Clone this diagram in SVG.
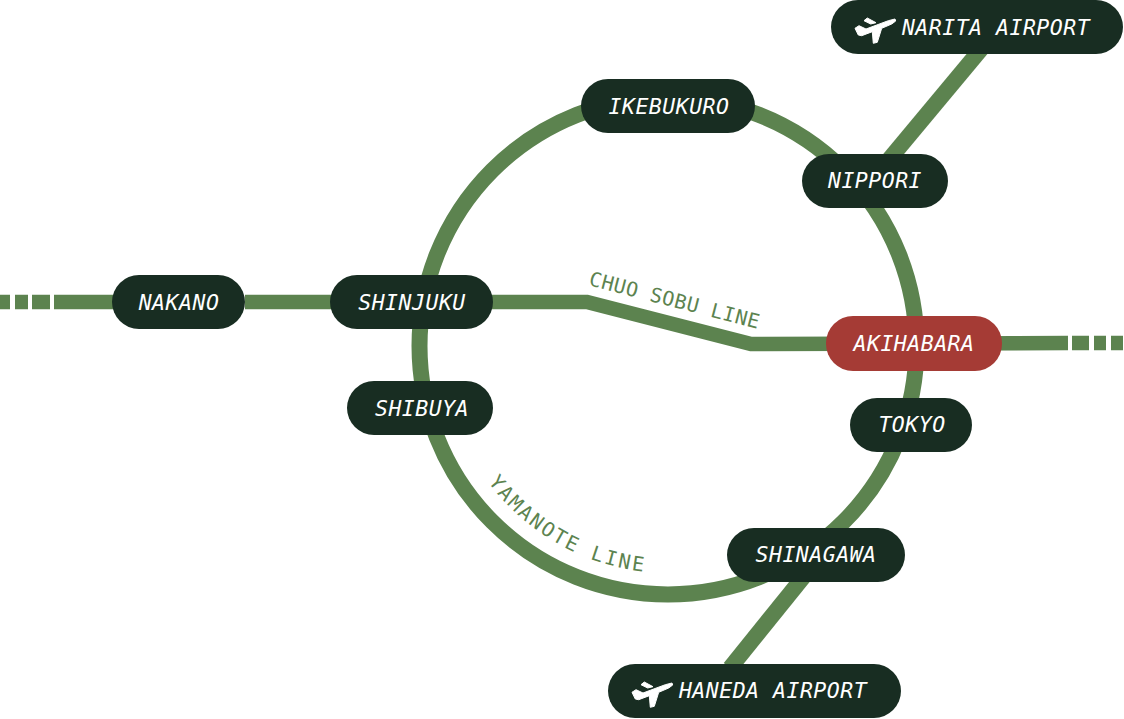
<svg xmlns="http://www.w3.org/2000/svg" xmlns:xlink="http://www.w3.org/1999/xlink" width="1124" height="719" viewBox="0 0 1124 719">
<style>
.line{fill:none;stroke:#5c834f;stroke-width:14.5}
.ring{stroke-width:16}
.air{stroke-width:16}
.pill{fill:#182d22}
.hot{fill:#a53b35}
.lbl{font-family:"DejaVu Sans Mono","Liberation Mono",monospace;font-style:italic;font-size:21.5px;letter-spacing:.5px;fill:#fff;text-anchor:middle}
.line-lbl{font-family:"DejaVu Sans Mono","Liberation Mono",monospace;font-size:20px;fill:#5c834f}
.plane{fill:#fff;stroke:#fff;stroke-width:1;stroke-linejoin:round}
</style>
<defs>
<path id="plane" d="M-19 -1.7L-15 -4.3L-8 -1L14.3 -9.3L21 -11L21.7 -9L17.7 -6L7.7 -1.7L3.3 12.3L-.7 13.3L-1.7 1.7L-12.3 5.7L-15.7 5ZM-10 -9.3L-6.7 -12L2 -7.3L-3.3 -6Z"/>
<path id="yama" d="M 488 482 A 226 226 0 0 0 668 573"/>
</defs>
<g id="connectors">
<circle class="line ring" cx="668" cy="346" r="248.5"/>
<path class="line" d="M54 302H180M245 302H587L751 344L1068 343"/>
<path class="line" d="M0 302H10M15 302H28M32 302H50M1072 343H1089M1094 343H1106M1111 343H1123"/>
<path class="line air" d="M885 164.4L985 44.4"/>
<path class="line air" d="M805 575L730 668"/>
</g>
<text class="line-lbl" transform="translate(588 285) rotate(14.5)" letter-spacing=".5">CHUO SOBU LINE</text>
<text class="line-lbl" letter-spacing="2.3"><textPath href="#yama" xlink:href="#yama">YAMANOTE LINE</textPath></text>
<g id="narita"><rect class="pill" x="831" y="0" width="292" height="54" rx="27"/><use class="plane" href="#plane" xlink:href="#plane" x="874" y="30"/><text class="lbl" x="996" y="35">NARITA AIRPORT</text></g>
<g id="ikebukuro"><rect class="pill" x="581" y="79" width="174" height="54" rx="27"/><text class="lbl" x="669" y="114">IKEBUKURO</text></g>
<g id="nippori"><rect class="pill" x="802" y="154" width="146" height="54" rx="27"/><text class="lbl" x="875" y="188">NIPPORI</text></g>
<g id="nakano"><rect class="pill" x="112" y="275" width="133" height="54" rx="27"/><text class="lbl" x="179" y="310">NAKANO</text></g>
<g id="shinjuku"><rect class="pill" x="330" y="275" width="163" height="54" rx="27"/><text class="lbl" x="412" y="310">SHINJUKU</text></g>
<g id="akihabara"><rect class="hot" x="826" y="316" width="176" height="55" rx="27"/><text class="lbl" x="914" y="351">AKIHABARA</text></g>
<g id="shibuya"><rect class="pill" x="347" y="381" width="146" height="54" rx="27"/><text class="lbl" x="422" y="416">SHIBUYA</text></g>
<g id="tokyo"><rect class="pill" x="850" y="398" width="122" height="54" rx="27"/><text class="lbl" x="912" y="432">TOKYO</text></g>
<g id="shinagawa"><rect class="pill" x="727" y="528" width="178" height="54" rx="27"/><text class="lbl" x="816" y="562">SHINAGAWA</text></g>
<g id="haneda"><rect class="pill" x="608" y="664" width="293" height="54" rx="27"/><use class="plane" href="#plane" xlink:href="#plane" x="651" y="694"/><text class="lbl" x="773" y="698">HANEDA AIRPORT</text></g>
</svg>
